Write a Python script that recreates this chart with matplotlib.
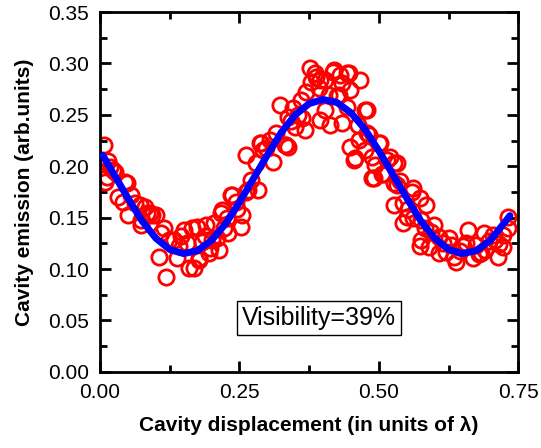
import matplotlib.pyplot as plt
import numpy as np
from matplotlib.ticker import MultipleLocator

# measured points (cavity displacement, emission)
x_data = [0.007, 0.009, 0.018, 0.023, 0.027, 0.012, 0.032, 0.041, 0.044, 0.048,
          0.050, 0.062, 0.071, 0.074, 0.074, 0.080, 0.085, 0.089, 0.094, 0.101,
          0.106, 0.110, 0.119, 0.124, 0.133, 0.138, 0.145, 0.151, 0.160, 0.165,
          0.168, 0.174, 0.177, 0.177, 0.183, 0.190, 0.195, 0.200, 0.204, 0.210,
          0.213, 0.216, 0.218, 0.223, 0.227, 0.230, 0.234, 0.236, 0.243, 0.252,
          0.254, 0.261, 0.262, 0.266, 0.270, 0.280, 0.284, 0.287, 0.289, 0.293,
          0.298, 0.310, 0.316, 0.323, 0.332, 0.333, 0.337, 0.337, 0.346, 0.349,
          0.355, 0.360, 0.363, 0.367, 0.376, 0.378, 0.385, 0.387, 0.395, 0.395,
          0.404, 0.404, 0.411, 0.413, 0.417, 0.420, 0.429, 0.431, 0.434, 0.434,
          0.443, 0.443, 0.447, 0.449, 0.449, 0.456, 0.457, 0.465, 0.466, 0.475,
          0.475, 0.479, 0.479, 0.482, 0.488, 0.488, 0.491, 0.493, 0.500, 0.502,
          0.505, 0.509, 0.514, 0.520, 0.527, 0.527, 0.528, 0.532, 0.532, 0.544,
          0.544, 0.550, 0.559, 0.562, 0.562, 0.573, 0.573, 0.576, 0.576, 0.585,
          0.589, 0.594, 0.598, 0.608, 0.608, 0.615, 0.626, 0.629, 0.638, 0.645,
          0.651, 0.660, 0.668, 0.674, 0.680, 0.688, 0.691, 0.698, 0.704, 0.709,
          0.713, 0.722, 0.723, 0.732, 0.732, 0.015, 0.056, 0.115, 0.142, 0.155,
          0.188, 0.198, 0.245, 0.305, 0.342, 0.370, 0.392, 0.425, 0.462, 0.538,
          0.553, 0.582, 0.620, 0.635, 0.656, 0.684, 0.716]
y_data = [0.221, 0.185, 0.199, 0.196, 0.194, 0.190, 0.170, 0.165, 0.185, 0.184,
          0.153, 0.164, 0.162, 0.148, 0.143, 0.160, 0.155, 0.155, 0.153, 0.153,
          0.112, 0.135, 0.092, 0.128, 0.128, 0.111, 0.132, 0.138, 0.101, 0.140,
          0.101, 0.141, 0.109, 0.111, 0.126, 0.143, 0.116, 0.128, 0.145, 0.130,
          0.119, 0.155, 0.157, 0.140, 0.150, 0.135, 0.172, 0.172, 0.165, 0.141,
          0.153, 0.175, 0.211, 0.177, 0.187, 0.203, 0.177, 0.223, 0.223, 0.216,
          0.218, 0.204, 0.232, 0.260, 0.221, 0.221, 0.219, 0.248, 0.257, 0.238,
          0.250, 0.264, 0.247, 0.235, 0.296, 0.282, 0.291, 0.287, 0.284, 0.245,
          0.284, 0.255, 0.269, 0.240, 0.292, 0.294, 0.269, 0.289, 0.281, 0.242,
          0.258, 0.291, 0.291, 0.274, 0.219, 0.206, 0.208, 0.226, 0.284, 0.216,
          0.255, 0.232, 0.255, 0.230, 0.209, 0.189, 0.189, 0.201, 0.223, 0.223,
          0.192, 0.192, 0.206, 0.209, 0.184, 0.203, 0.162, 0.182, 0.203, 0.164,
          0.145, 0.151, 0.175, 0.150, 0.179, 0.169, 0.122, 0.148, 0.128, 0.162,
          0.121, 0.136, 0.143, 0.131, 0.116, 0.125, 0.130, 0.123, 0.107, 0.118,
          0.122, 0.138, 0.111, 0.123, 0.115, 0.135, 0.119, 0.127, 0.133, 0.128,
          0.112, 0.121, 0.133, 0.140, 0.151, 0.205, 0.172, 0.140, 0.122, 0.125,
          0.132, 0.120, 0.158, 0.226, 0.244, 0.272, 0.276, 0.268, 0.240, 0.186,
          0.158, 0.140, 0.117, 0.112, 0.125, 0.116, 0.124]

# fitted curve, read at 0.025 steps
x_fit = [0.005, 0.025, 0.05, 0.075, 0.1, 0.125, 0.15, 0.175, 0.2, 0.225,
         0.25, 0.275, 0.3, 0.325, 0.35, 0.375, 0.4, 0.425, 0.45, 0.475,
         0.5, 0.525, 0.55, 0.575, 0.6, 0.625, 0.65, 0.675, 0.7, 0.725, 0.735]
y_fit = [0.2105, 0.192, 0.169, 0.147, 0.130, 0.119, 0.115, 0.118, 0.128, 0.144,
         0.165, 0.188, 0.211, 0.233, 0.250, 0.261, 0.265, 0.262, 0.252, 0.236,
         0.215, 0.192, 0.169, 0.147, 0.130, 0.119, 0.115, 0.118, 0.128, 0.145,
         0.152]

plt.rcParams['font.family'] = ['Liberation Sans', 'DejaVu Sans']

fig = plt.figure(figsize=(5.41, 4.48), dpi=100)
ax = fig.add_axes([0.185, 0.170, 0.773, 0.803])

ax.plot(x_data, y_data, 'o', mfc='none', mec='red', ms=11, mew=2, zorder=2)
ax.plot(x_fit, y_fit, '-', color='#0000ff', lw=5, solid_capstyle='round', zorder=3)

ax.set_xlim(0, 0.75)
ax.set_ylim(0, 0.35)
ax.xaxis.set_major_locator(MultipleLocator(0.25))
ax.xaxis.set_minor_locator(MultipleLocator(0.125))
ax.yaxis.set_major_locator(MultipleLocator(0.05))
ax.yaxis.set_minor_locator(MultipleLocator(0.025))
ax.tick_params(which='both', direction='in', top=True, right=True, width=2, labelsize=15)
ax.tick_params(which='major', length=8, pad=8)
ax.tick_params(which='minor', length=5)
for s in ax.spines.values():
    s.set_linewidth(2)

ax.set_xlabel('Cavity displacement (in units of λ)', fontsize=15, fontweight='bold', labelpad=10)
ax.set_ylabel('Cavity emission (arb.units)', fontsize=15, fontweight='bold', labelpad=10)

ax.text(0.392, 0.052, 'Visibility=39%', fontsize=18, ha='center', va='center',
        bbox=dict(boxstyle='square,pad=0.2', fc='white', ec='black', lw=1))

plt.savefig('out.png')
